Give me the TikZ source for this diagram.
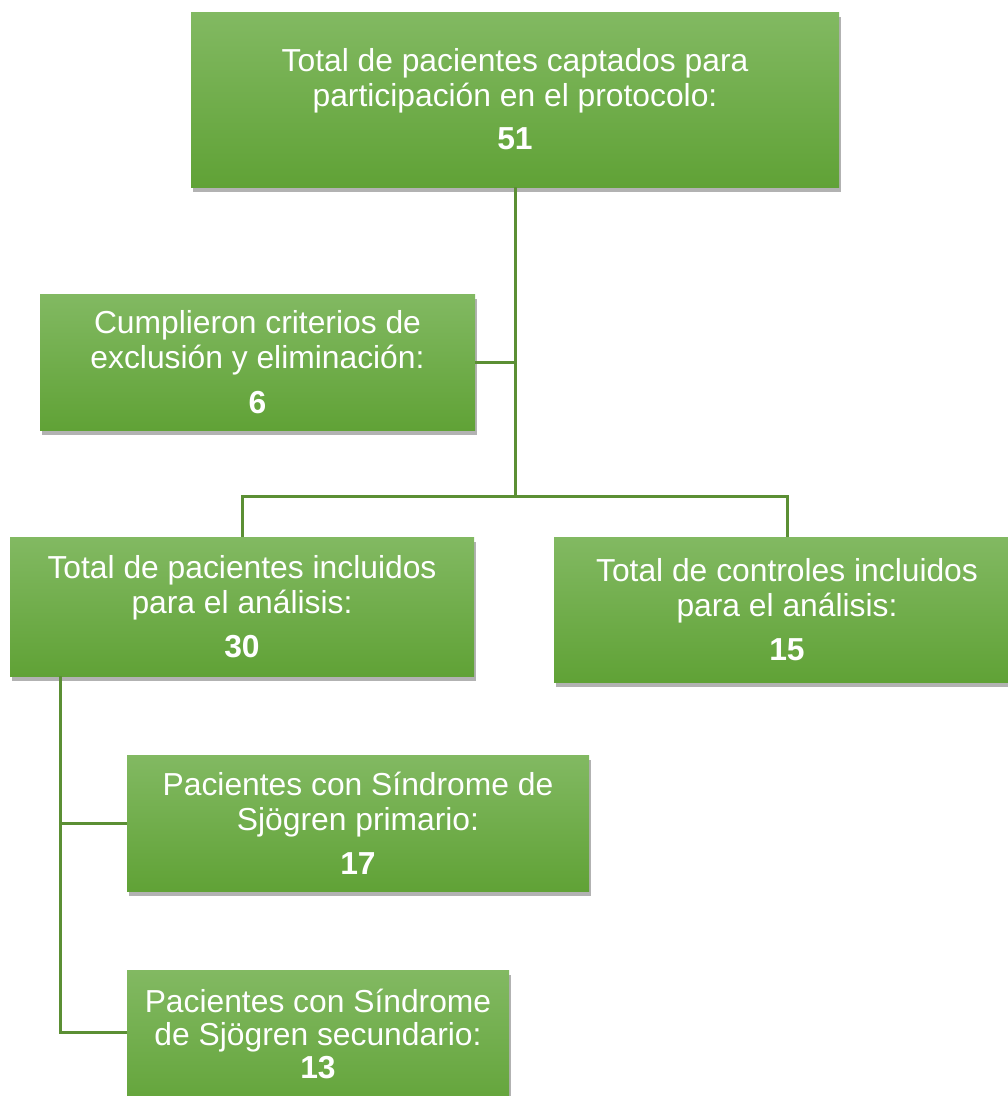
\documentclass[tikz,border=0pt]{standalone}
\usepackage{fontspec}
\setmainfont{Liberation Sans}
\usetikzlibrary{shadows,calc}
\definecolor{boxtop}{HTML}{82B962}
\definecolor{boxmid}{HTML}{6DB043}
\definecolor{boxbot}{HTML}{60A236}
\definecolor{linecol}{HTML}{5B8F34}
\tikzset{
  gbox/.style={rectangle, inner sep=0pt, top color=boxtop, middle color=boxmid, bottom color=boxbot,
    text=white, align=center, font=\fontsize{31.8}{35}\selectfont,
    drop shadow={shadow xshift=2pt, shadow yshift=-5pt, opacity=0.5, fill=black!60}},
  conn/.style={draw=linecol, line width=3pt}
}
\begin{document}
\begin{tikzpicture}[x=1pt,y=-1pt]
\clip (0,0) rectangle (1008,1096);
\fill[white] (0,0) rectangle (1008,1096);
% boxes
\node[gbox, minimum width=648pt, minimum height=175pt] (top) at (515,99.5)
  {Total de pacientes captados para\\participación en el protocolo:\\[8pt]\textbf{51}};
\node[gbox, minimum width=435pt, minimum height=136pt] (excl) at (257.5,362)
  {Cumplieron criterios de\\exclusión y eliminación:\\[10pt]\textbf{6}};
\node[gbox, minimum width=464pt, minimum height=139pt] (incl) at (242,606.5)
  {Total de pacientes incluidos\\para el análisis:\\[9pt]\textbf{30}};
\node[gbox, minimum width=466pt, minimum height=145pt] (ctrl) at (787,609.5)
  {Total de controles incluidos\\para el análisis:\\[9pt]\textbf{15}};
\node[gbox, minimum width=462pt, minimum height=136pt] (prim) at (358,823)
  {Pacientes con Síndrome de\\Sjögren primario:\\[9pt]\textbf{17}};
\node[gbox, minimum width=382pt, minimum height=150pt] (sec) at (318,1045)
  {\phantom{X}};
\node[text=white, align=center, font=\fontsize{31.8}{33}\selectfont] (secT) at (318,1034)
  {Pacientes con Síndrome\\de Sjögren secundario:\\\textbf{13}};
% connectors
\coordinate (j1) at (515,496);
\coordinate (lv) at (60,676);
\draw[conn] (top.south) -- (j1);
\draw[conn] (excl.east) -- (excl.east -| j1);
\draw[conn] (incl.north) |- (j1) -| (ctrl.north);
\draw[conn] (lv) |- (sec.west |- 0,1032);
\draw[conn] (lv |- prim.west) -- (prim.west);
\end{tikzpicture}
\end{document}
